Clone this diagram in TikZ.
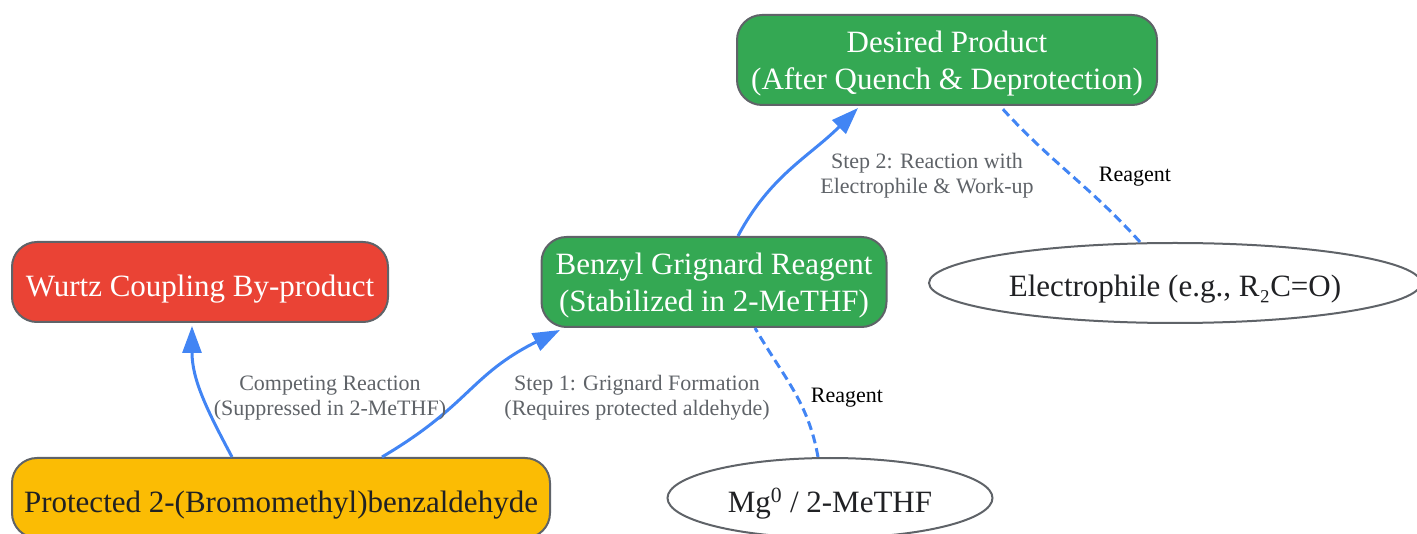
\documentclass[tikz,border=0pt]{standalone}
\usepackage{fontspec}
\setmainfont{Liberation Serif}
\usetikzlibrary{shapes.geometric,arrows.meta}
\definecolor{gred}{HTML}{EA4335}
\definecolor{gyellow}{HTML}{FBBC04}
\definecolor{ggreen}{HTML}{34A853}
\definecolor{gblue}{HTML}{4285F4}
\definecolor{gborder}{HTML}{5F6368}
\definecolor{glabel}{HTML}{5F6368}
\definecolor{gtext}{HTML}{202124}
\begin{document}
\begin{tikzpicture}[x=1pt,y=1pt,
  box/.style={draw=gborder,line width=2pt,rounded corners=25pt,inner sep=0pt,
    text depth=0pt,align=center,font=\fontsize{31}{37}\selectfont,
    execute at begin node={\rule{0pt}{29pt}}},
  oval/.style={ellipse,draw=gborder,line width=2pt,fill=white,inner sep=0pt,
    text depth=0pt,text=gtext,font=\fontsize{31}{37}\selectfont,
    execute at begin node={\rule{0pt}{28pt}}},
  flow/.style={draw=gblue,line width=3pt,-{Triangle[length=27pt,width=19pt]}},
  feed/.style={draw=gblue,line width=3pt,dash pattern=on 9pt off 5pt},
  steplabel/.style={align=center,text=glabel,font=\fontsize{22}{25}\selectfont},
  reaglabel/.style={text=black,font=\fontsize{22}{25}\selectfont}]
  \useasboundingbox (0,0) rectangle (1417,-534);
  \node[box,fill=gred,text=white,minimum width=376,minimum height=80] (wurtz) at (200,-282) {Wurtz Coupling By-product};
  \node[box,fill=gyellow,text=gtext,minimum width=538,minimum height=80] (prot) at (281,-498) {Protected 2-(Bromomethyl)benzaldehyde};
  \node[box,fill=ggreen,text=white,minimum width=345,minimum height=90] (grig) at (714,-282) {Benzyl Grignard Reagent\\(Stabilized in 2-MeTHF)};
  \node[box,fill=ggreen,text=white,minimum width=420,minimum height=90] (prod) at (947,-60) {Desired Product\\(After Quench \& Deprotection)};
  \node[oval,minimum width=492,minimum height=80] (elec) at (1175,-283) {Electrophile (e.g., R₂C=O)};
  \node[oval,minimum width=325,minimum height=80] (mg) at (830,-498) {Mg\textsuperscript{0} / 2-MeTHF};

  \draw[flow] ([xshift=-49]prot.north) to[out=118,in=-90] ([xshift=-8,yshift=-3]wurtz.south);
  \draw[flow] ([xshift=101]prot.north) .. controls (470,-405) and (470,-375) .. ([xshift=-154,yshift=-2]grig.south);
  \draw[flow] ([xshift=24]grig.north) to[out=62,in=-135] ([xshift=-89,yshift=-2]prod.south);
  \draw[feed] ([xshift=-12]mg.north) to[out=100,in=-60] ([xshift=41]grig.south);
  \draw[feed] ([xshift=-35]elec.north) to[out=132,in=-48] ([xshift=53]prod.south);

  \node[steplabel] (lcomp) at (330,-398) {Competing Reaction\\(Suppressed in 2-MeTHF)};
  \node[steplabel] (lstep1) at (637,-398) {Step 1: Grignard Formation\\(Requires protected aldehyde)};
  \node[steplabel] (lstep2) at (927,-176) {Step 2: Reaction with\\Electrophile \& Work-up};
  \node[reaglabel] (lmg) at (847,-398) {Reagent};
  \node[reaglabel] (lel) at (1135,-177) {Reagent};
\end{tikzpicture}
\end{document}
